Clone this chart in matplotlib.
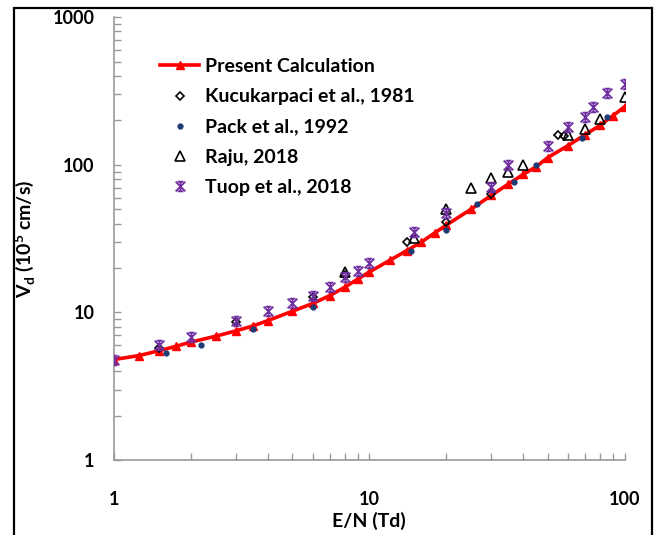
#!/usr/bin/env python3
"""
Drift velocity vs reduced field: present calculation against published data.
"""

import matplotlib
matplotlib.use("Agg")
import matplotlib.pyplot as plt
from matplotlib.path import Path
from matplotlib.patches import Rectangle
from matplotlib.ticker import LogLocator, NullFormatter, FixedLocator, FixedFormatter

# Present calculation
calc_en = [1, 1.25, 1.5, 1.75, 2, 2.5, 3, 3.5, 4, 5, 6, 7, 8, 9, 10, 12, 14, 16, 18,
           20, 25, 30, 35, 40, 45, 50, 60, 70, 80, 90, 100]
calc_vd = [4.8, 5.1, 5.5, 5.9, 6.3, 6.9, 7.5, 8.1, 8.8, 10.2, 11.5, 13.0, 14.8, 16.8,
           18.8, 22.5, 26.2, 30.0, 34.5, 39, 50, 62, 74, 86, 97, 112, 135, 160, 185,
           215, 248]

# Kucukarpaci et al., 1981
kuc_en = [1.5, 3, 6, 8, 14, 20, 30, 55, 58]
kuc_vd = [5.7, 8.6, 12.8, 18.0, 30, 41, 63, 160, 156]

# Pack et al., 1992
pack_en = [1.6, 2.2, 3.5, 6, 14.5, 20, 26.5, 37, 45, 68, 85]
pack_vd = [5.3, 6.0, 7.7, 10.9, 26, 36, 54, 76, 99, 151, 210]

# Raju, 2018
raju_en = [8, 15, 20, 25, 30, 35, 40, 60, 70, 80, 100]
raju_vd = [18.9, 32, 50, 70, 81, 89, 99, 158, 174, 203, 287]

# Tuop et al., 2018
tuop_en = [1, 1.5, 2, 3, 4, 5, 6, 7, 8, 9, 10, 15, 20, 30, 35, 50, 60, 70, 75, 85, 100]
tuop_vd = [4.8, 6.0, 6.8, 8.7, 10.3, 11.5, 13.0, 14.8, 17.4, 19.0, 21.7, 35, 47, 71,
           100, 135, 180, 212, 245, 305, 355]

x_ticks = [1, 10, 100]
y_ticks = [1, 10, 100, 1000]

FONT = "Lato"
AXIS_GREY = "#9a9a9a"

# star marker: an x with a vertical stroke and short caps
star = Path(
    [(-1, -1), (1, 1), (-1, 1), (1, -1), (0, -1), (0, 1),
     (-0.6, 1), (0.6, 1), (-0.6, -1), (0.6, -1)],
    [Path.MOVETO, Path.LINETO] * 5,
)

plt.rcParams["font.family"] = [FONT, "DejaVu Sans"]

fig = plt.figure(figsize=(6.59, 5.35), dpi=100)
ax = fig.add_axes([0.173, 0.140, 0.775, 0.828])

ax.plot(calc_en, calc_vd, color="#ff0000", lw=2.6, marker="^", ms=6,
        mfc="#ff0000", mec="#ff0000", label="Present Calculation", zorder=3)
ax.plot(kuc_en, kuc_vd, ls="none", marker="D", ms=4.5, mfc="none", mec="black",
        mew=1.2, label="Kucukarpaci et al., 1981", zorder=4)
ax.plot(pack_en, pack_vd, ls="none", marker="o", ms=3.5, mfc="#1f3b73",
        mec="#1f3b73", label="Pack et al., 1992", zorder=4)
ax.plot(raju_en, raju_vd, ls="none", marker="^", ms=6.5, mfc="none", mec="black",
        mew=1.2, label="Raju, 2018", zorder=4)
ax.plot(tuop_en, tuop_vd, ls="none", marker=star, ms=7, mfc="none", mec="#7030a0",
        mew=1.3, label="Tuop et al., 2018", zorder=5)

ax.set_xscale("log")
ax.set_yscale("log")
ax.set_xlim(1, 100)
ax.set_ylim(1, 1000)

ax.xaxis.set_major_locator(FixedLocator(x_ticks))
ax.xaxis.set_major_formatter(FixedFormatter([str(v) for v in x_ticks]))
ax.yaxis.set_major_locator(FixedLocator(y_ticks))
ax.yaxis.set_major_formatter(FixedFormatter([str(v) for v in y_ticks]))
for axis in (ax.xaxis, ax.yaxis):
    axis.set_minor_locator(LogLocator(base=10, subs=range(2, 10)))
    axis.set_minor_formatter(NullFormatter())

ax.tick_params(which="both", direction="in", length=5, width=1, color=AXIS_GREY)
ax.tick_params(axis="x", which="major", pad=22, labelsize=13)
ax.tick_params(axis="y", which="major", pad=14, labelsize=13)
for lab in ax.get_xticklabels() + ax.get_yticklabels():
    lab.set_fontweight("bold")

for side in ("top", "right"):
    ax.spines[side].set_visible(False)
for side in ("left", "bottom"):
    ax.spines[side].set_color(AXIS_GREY)
    ax.spines[side].set_linewidth(1.2)

ax.set_xlabel("E/N (Td)", fontsize=14, fontweight="bold")
ax.set_ylabel(r"V$_\mathregular{d}$ (10$^\mathregular{5}$ cm/s)", fontsize=14,
              fontweight="bold")
ax.xaxis.set_label_coords(0.5, -0.117)
ax.yaxis.set_label_coords(-0.15, 0.5)

leg = ax.legend(loc="upper left", bbox_to_anchor=(0.074, 0.925), frameon=False,
                fontsize=14, handlelength=2.05, labelspacing=0.68, handletextpad=0.3,
                borderaxespad=0)
for t in leg.get_texts():
    t.set_fontweight("bold")

# outer frame round the whole chart
fig.patches.append(Rectangle((0.021, -0.05), 0.968, 1.035, transform=fig.transFigure,
                             fill=False, edgecolor="black", lw=1.6))

plt.savefig("out.png", dpi=100)
